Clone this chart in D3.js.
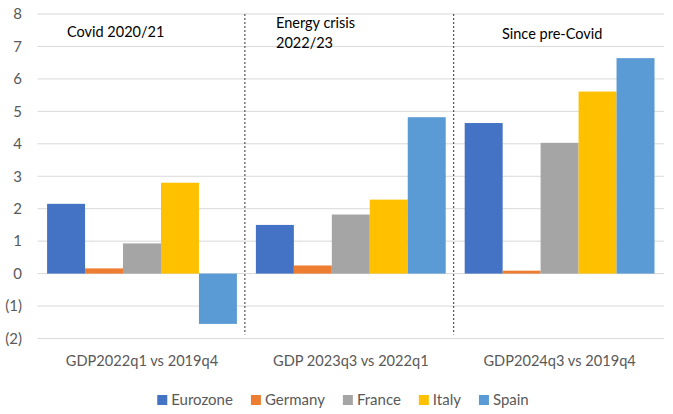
<!DOCTYPE html>
<html>
<head>
<meta charset="utf-8">
<script src="https://cdn.jsdelivr.net/npm/d3@7"></script>
<style>
  body { margin: 0; background: #fff; }
  svg { font-family: Lato, "Open Sans", sans-serif; }
</style>
</head>
<body>
<svg width="673" height="414"></svg>
<script>
// chart data
var categories = ["GDP2022q1 vs 2019q4", "GDP 2023q3 vs 2022q1", "GDP2024q3 vs 2019q4"];
var countries = ["Eurozone", "Germany", "France", "Italy", "Spain"];
var eurozone = [2.15, 1.5, 4.64];
var germany = [0.16, 0.25, 0.09];
var france = [0.93, 1.82, 4.03];
var italy = [2.8, 2.28, 5.61];
var spain = [-1.55, 4.82, 6.64];
var periods = ["Covid 2020/21", "Energy crisis\n2022/23", "Since pre-Covid"];
var yTicks = [8, 7, 6, 5, 4, 3, 2, 1, 0, -1, -2];

var series = [eurozone, germany, france, italy, spain];
var colors = ["#4472C4", "#ED7D31", "#A5A5A5", "#FFC000", "#5B9BD5"];

var svg = d3.select("svg");
var plotL = 37.6, plotR = 664, plotT = 14, plotB = 338.5;

var x0 = d3.scaleBand().domain(categories).range([plotL, plotR]).paddingInner(0).paddingOuter(0);
var x1 = d3.scaleBand().domain(countries).range([0, x0.bandwidth()]).paddingOuter(0.25);
var y = d3.scaleLinear().domain([-2, 8]).range([plotB, plotT]);

// gridlines
svg.append("g").selectAll("line").data(yTicks).enter().append("line")
  .attr("x1", plotL).attr("x2", plotR)
  .attr("y1", function(d) { return y(d); }).attr("y2", function(d) { return y(d); })
  .attr("stroke", "#d9d9d9").attr("stroke-width", 1);

// y axis labels
var yAxis = d3.axisLeft(y).tickValues(yTicks).tickSize(0).tickPadding(0)
  .tickFormat(function(d) { return d < 0 ? "(" + Math.abs(d) + ")" : d; });
var ya = svg.append("g").attr("transform", "translate(22,0)").call(yAxis);
ya.select(".domain").remove();
ya.selectAll("text").attr("fill", "#595959").style("font-size", "15px")
  .style("font-family", "Lato, sans-serif");

// bars
var groups = svg.append("g").selectAll("g").data(categories).enter().append("g")
  .attr("transform", function(d) { return "translate(" + x0(d) + ",0)"; });
groups.selectAll("rect")
  .data(function(d, i) { return countries.map(function(c, j) { return { c: c, v: series[j][i], j: j }; }); })
  .enter().append("rect")
  .attr("x", function(d) { return x1(d.c); })
  .attr("width", x1.bandwidth())
  .attr("y", function(d) { return y(Math.max(0, d.v)); })
  .attr("height", function(d) { return Math.abs(y(d.v) - y(0)); })
  .attr("fill", function(d) { return colors[d.j]; });

// dashed dividers
svg.append("g").selectAll("line").data(categories.slice(1)).enter().append("line")
  .attr("x1", function(d) { return x0(d) - 1.5; }).attr("x2", function(d) { return x0(d) - 1.5; })
  .attr("y1", y(8)).attr("y2", y(-2) - 4)
  .attr("stroke", "#333").attr("stroke-width", 1).attr("stroke-dasharray", "2,2");

// category labels
var xAxis = d3.axisBottom(x0).tickSize(0).tickPadding(0);
var xa = svg.append("g").attr("transform", "translate(0,357)").call(xAxis);
xa.select(".domain").remove();
xa.selectAll("text").attr("fill", "#595959").style("font-size", "14.6px")
  .style("font-family", "Lato, sans-serif").attr("dy", "0.35em").attr("y", 4);

// period annotations
var annX = [67, 276, 502];
var annY = [37, 28, 39];
periods.forEach(function(p, i) {
  var t = svg.append("text").attr("x", annX[i]).attr("y", annY[i])
    .attr("fill", "#000").style("font-size", "14.5px");
  p.split("\n").forEach(function(line, k) {
    t.append("tspan").attr("x", annX[i]).attr("dy", k === 0 ? 0 : 20).text(line);
  });
});

// legend
var legend = svg.append("g");
var lx = 0;
countries.forEach(function(c, i) {
  var g = legend.append("g").attr("transform", "translate(" + lx + ",0)");
  g.append("rect").attr("x", 0).attr("y", -5).attr("width", 10).attr("height", 10).attr("fill", colors[i]);
  var t = g.append("text").attr("x", 14).attr("y", 0).attr("dy", "0.35em")
    .attr("fill", "#595959").style("font-size", "15px").text(c);
  lx += 14 + t.node().getComputedTextLength() + 18;
});
var lw = lx - 18;
legend.attr("transform", "translate(" + (343 - lw / 2) + ",400)");
</script>
</body>
</html>
